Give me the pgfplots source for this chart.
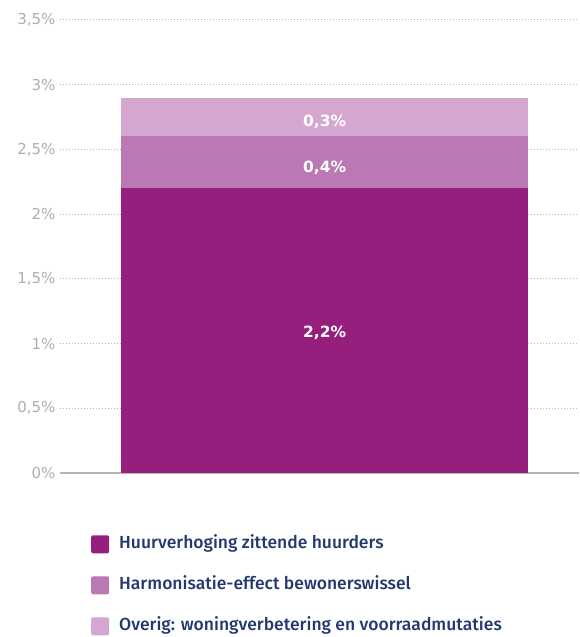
\documentclass[border=0pt]{standalone}
\usepackage{fontspec}
\setmainfont{Fira Sans}
\newfontfamily\medfont{Fira Sans Medium}
\newfontfamily\tickfont{DejaVu Sans}
\usepackage{pgfplots}
\pgfplotsset{compat=1.18}
\definecolor{cDark}{HTML}{961E7D}
\definecolor{cMid}{HTML}{BA78B5}
\definecolor{cLight}{HTML}{D4A6D0}
\definecolor{cTick}{HTML}{AEAEAE}
\definecolor{cGrid}{HTML}{B8B8B8}
\definecolor{cNavy}{HTML}{22386E}
\newcommand\tl[1]{{\tickfont\fontsize{15}{17}\selectfont\color{cTick}#1}}
\newcommand\bl[1]{{\tickfont\bfseries\fontsize{15.5}{17}\selectfont\color{white}#1}}
\begin{document}
\begin{tikzpicture}
\useasboundingbox (-60pt,-164pt) rectangle (519pt,473pt);
\begin{axis}[
  at={(0pt,0pt)}, anchor=south west,
  scale only axis, width=519pt, height=453pt,
  xmin=0, xmax=1, ymin=0, ymax=3.5,
  ybar stacked, bar width=407pt,
  axis line style={draw=none},
  xtick=\empty,
  ytick={0,0.5,1,1.5,2,2.5,3,3.5},
  yticklabels={\tl{0\%},\tl{0,5\%},\tl{1\%},\tl{1,5\%},\tl{2\%},\tl{2,5\%},\tl{3\%},\tl{3,5\%}},
  major tick length=0pt,
  yticklabel style={xshift=-1pt},
  ymajorgrids,
  grid style={cGrid, line width=1pt, dash pattern=on 1pt off 2pt},
  extra y ticks={0}, extra y tick labels={},
  extra y tick style={grid style={solid, color=cTick!90, line width=1.2pt}},
  clip=false,
  legend style={draw=none, fill=none, inner sep=0pt, row sep=23pt, column sep=10pt,
    at={(0.0597,-0.1370)}, anchor=north west,
    font=\medfont\fontsize{17.5}{19}\selectfont, text=cNavy,
    nodes={inner sep=0pt, text height=12pt, text depth=4pt, anchor=base west}},
  legend cell align=left,
  legend image code/.code={\fill[#1, rounded corners=2pt] (0pt,-5pt) rectangle (18pt,13pt);},
]
\addplot[fill=cDark, draw=none] coordinates {(0.51,2.2)};
\addplot[fill=cMid, draw=none] coordinates {(0.51,0.4)};
\addplot[fill=cLight, draw=none] coordinates {(0.51,0.3)};
\legend{Huurverhoging zittende huurders, Harmonisatie-effect bewonerswissel, Overig: woningverbetering en voorraadmutaties}
\coordinate (l3) at (axis cs:0.51,2.71);
\coordinate (l2) at (axis cs:0.51,2.36);
\coordinate (l1) at (axis cs:0.51,1.08);
\end{axis}
\node at (l3) {\bl{0,3\%}};
\node at (l2) {\bl{0,4\%}};
\node at (l1) {\bl{2,2\%}};
\end{tikzpicture}
\end{document}
